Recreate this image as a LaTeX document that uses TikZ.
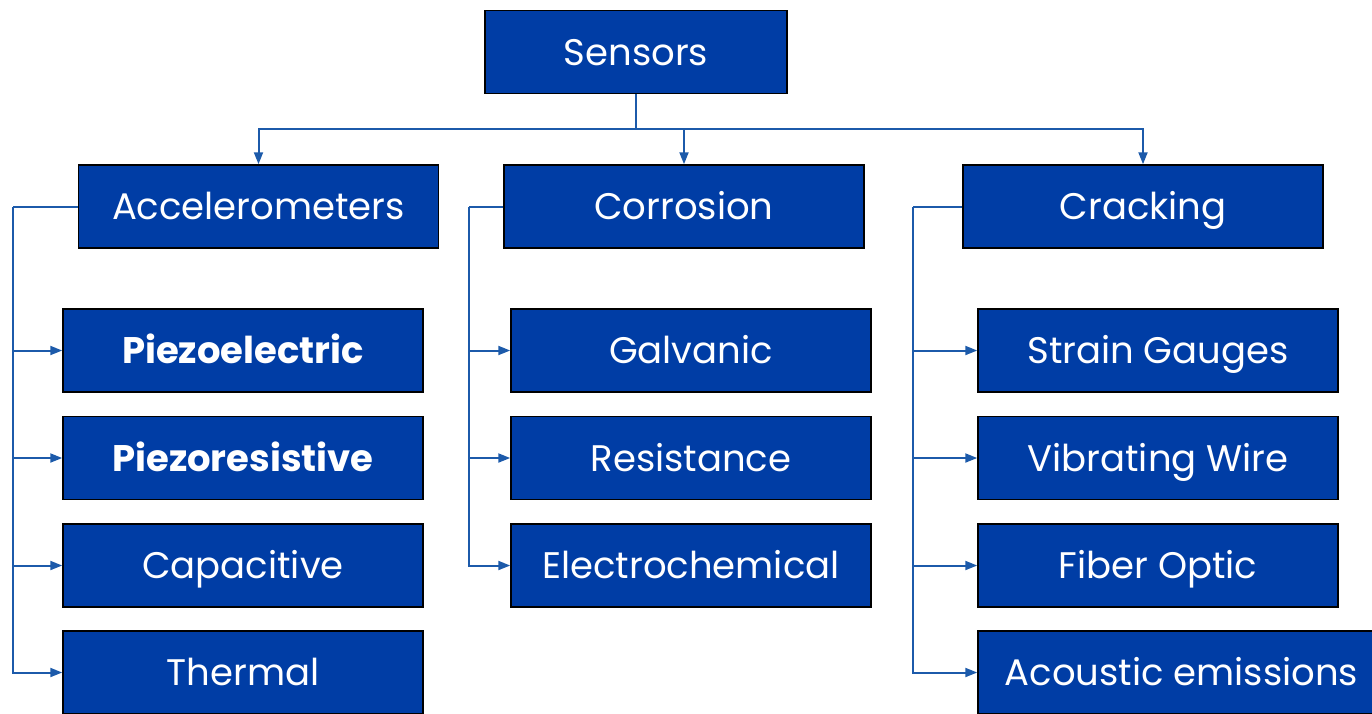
\documentclass[tikz,border=0pt]{standalone}
\usepackage{fontspec}
\setmainfont{Poppins}
\usetikzlibrary{arrows.meta}
\definecolor{boxblue}{RGB}{0,61,165}
\definecolor{lineblue}{RGB}{28,90,170}
\begin{document}
\begin{tikzpicture}[x=1pt,y=-1pt,
    box/.style={draw=black,line width=1.5pt,fill=boxblue,text=white,
      minimum width=360pt,minimum height=83pt,inner sep=0pt,
      text height=26pt,text depth=0pt,
      font=\fontsize{37}{44}\selectfont},
    boldbox/.style={box,font=\fontsize{37}{44}\selectfont\bfseries},
    link/.style={draw=lineblue,line width=2pt},
    arr/.style={link,-{Triangle[length=12pt,width=9pt]}}]
  \useasboundingbox (0,0) rectangle (1372,713);
  \clip (0,0) rectangle (1372,713);
  \node [box,minimum width=302pt] (sensors) at (636,52) {Sensors};
  \node [box] (accel) at (258.5,206.5) {Accelerometers};
  \node [box] (corr) at (684,206.5) {Corrosion};
  \node [box] (crack) at (1143,206.5) {Cracking};
  \node [boldbox] (piezoel) at (243,350.5) {Piezoelectric};
  \node [boldbox] (piezores) at (243,458) {Piezoresistive};
  \node [box] (capac) at (243,565.5) {Capacitive};
  \node [box] (thermal) at (243,672.5) {Thermal};
  \node [box] (galv) at (691,350.5) {Galvanic};
  \node [box] (resist) at (691,458) {Resistance};
  \node [box] (echem) at (691,565.5) {Electrochemical};
  \node [box] (strain) at (1158,350.5) {Strain Gauges};
  \node [box] (vwire) at (1158,458) {Vibrating Wire};
  \node [box] (fiber) at (1158,565.5) {Fiber Optic};
  \node [box,minimum width=407pt] (acoustic) at (1181.5,672.5) {Acoustic emissions};
  \coordinate (split) at (636,129);
  \coordinate (accelbus) at (13,206.5);
  \coordinate (corrbus) at (469,206.5);
  \coordinate (crackbus) at (913,206.5);
  \draw [link] (sensors.south) -- (split);
  \foreach \n in {accel,corr,crack}
    \draw [arr] (split) -| (\n.north);
  \draw [link] (accel.west) -- (accelbus);
  \draw [link] (corr.west) -- (corrbus);
  \draw [link] (crack.west) -- (crackbus);
  \foreach \n in {piezoel,piezores,capac,thermal}
    \draw [arr] (accelbus) |- (\n.west);
  \foreach \n in {galv,resist,echem}
    \draw [arr] (corrbus) |- (\n.west);
  \foreach \n in {strain,vwire,fiber,acoustic}
    \draw [arr] (crackbus) |- (\n.west);
\end{tikzpicture}
\end{document}
